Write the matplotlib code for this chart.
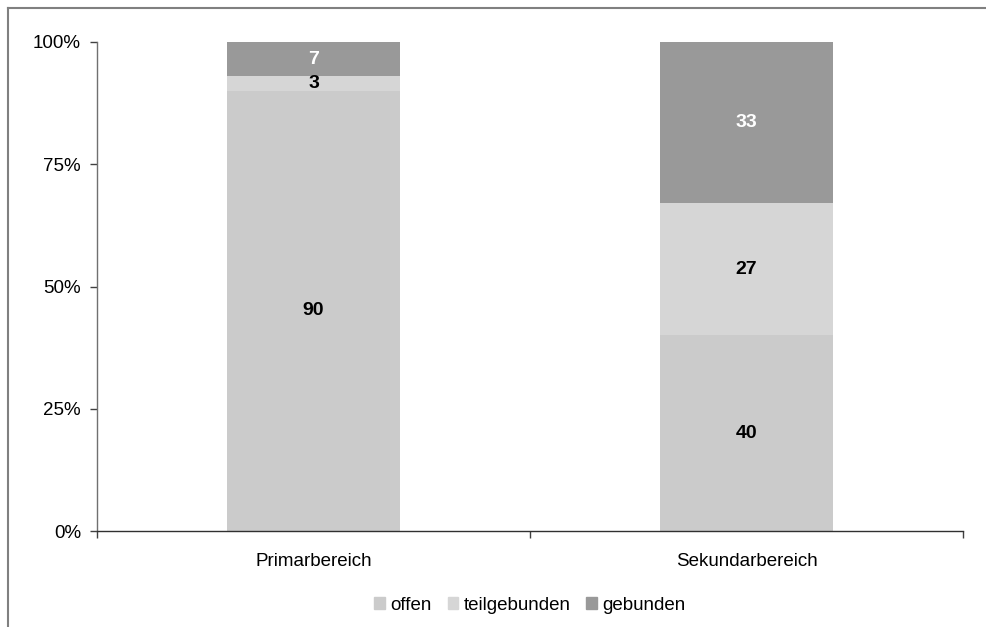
import matplotlib.pyplot as plt
import numpy as np
from matplotlib.lines import Line2D

plt.rcParams['font.family'] = ['Liberation Sans', 'DejaVu Sans']

categories = ['Primarbereich', 'Sekundarbereich']
series = ['offen', 'teilgebunden', 'gebunden']
offen = [90, 40]
teilgebunden = [3, 27]
gebunden = [7, 33]
colors = ['#cbcbcb', '#d6d6d6', '#999999']
label_colors = ['black', 'black', 'white']

fig = plt.figure(figsize=(9.87, 6.27), dpi=100)
ax = fig.add_axes([97 / 987, 96 / 627, 866 / 987, 489 / 627])

x = np.arange(len(categories))
bottom = np.zeros(len(categories))
for vals, col, lc in zip([offen, teilgebunden, gebunden], colors, label_colors):
    vals = np.array(vals, dtype=float)
    ax.bar(x, vals, 0.4, bottom=bottom, color=col, linewidth=0)
    for xi, b, v in zip(x, bottom, vals):
        ax.text(xi, b + v / 2, f'{v:.0f}', ha='center', va='center',
                fontsize=14, fontweight='bold', color=lc)
    bottom += vals

ax.set_xlim(-0.5, 1.5)
ax.set_ylim(0, 100)
ax.set_yticks([0, 25, 50, 75, 100])
ax.set_yticklabels(['0%', '25%', '50%', '75%', '100%'])
ax.set_xticks([-0.5, 0.5, 1.5], minor=False)
ax.set_xticklabels(['', '', ''])
ax.set_xticks(x, minor=True)
ax.set_xticklabels(categories, minor=True)
ax.tick_params(axis='x', which='minor', length=0, pad=16, labelsize=13.5)
ax.tick_params(axis='x', which='major', length=5, width=1, color='#404040')
ax.tick_params(axis='y', length=5, width=1, color='#404040', labelsize=13.5, pad=6.5)

for s in ['top', 'right']:
    ax.spines[s].set_visible(False)
ax.spines['left'].set_color('#707070')
ax.spines['bottom'].set_color('#303030')
ax.spines['left'].set_linewidth(1)
ax.spines['bottom'].set_linewidth(1)

handles = [plt.Rectangle((0, 0), 1, 1, color=c) for c in colors]
fig.legend(handles, series, loc='center', bbox_to_anchor=(530 / 987, 1 - 605 / 627),
           ncol=3, frameon=False, fontsize=13.5, handlelength=0.55, handleheight=0.55,
           handletextpad=0.3, columnspacing=0.85)

# outer chart frame (only left and top edges visible)
fig.add_artist(Line2D([8 / 987, 8 / 987], [0, 1 - 8 / 627], color='#808080', lw=1.5,
                      transform=fig.transFigure))
fig.add_artist(Line2D([8 / 987, 1], [1 - 8 / 627, 1 - 8 / 627], color='#808080', lw=1.5,
                      transform=fig.transFigure))

fig.savefig('out.png', dpi=100)
